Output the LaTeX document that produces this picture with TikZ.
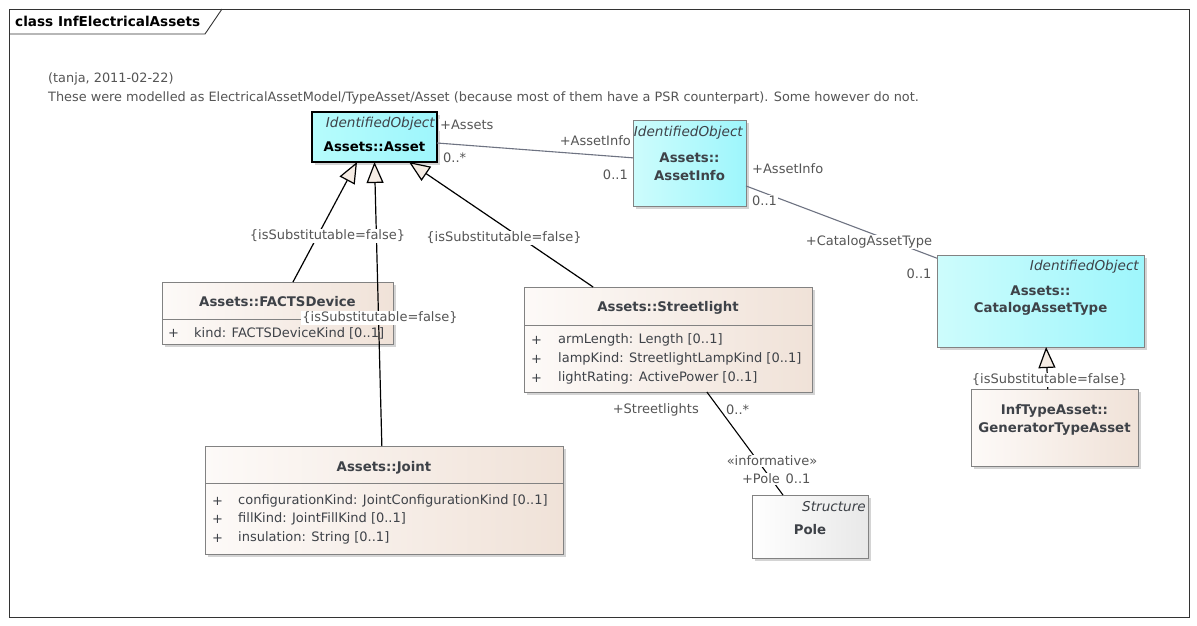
\documentclass[tikz,border=0pt]{standalone}
\usepackage{fontspec}
\setmainfont{DejaVu Sans}
\usetikzlibrary{shadows,arrows.meta,calc}

\definecolor{cyanL}{RGB}{205,252,252}
\definecolor{cyanR}{RGB}{158,246,252}
\definecolor{cyanSelL}{RGB}{182,252,252}
\definecolor{tanL}{RGB}{253,250,248}
\definecolor{tanR}{RGB}{240,226,216}
\definecolor{poleR}{RGB}{232,232,232}
\definecolor{boxline}{RGB}{130,130,130}
\definecolor{boxtext}{RGB}{62,66,72}
\definecolor{labeltext}{RGB}{85,85,85}
\definecolor{assocline}{RGB}{110,115,130}
\definecolor{trifill}{RGB}{245,236,228}

\tikzset{
  txt/.style={font=\fontsize{13}{15}\selectfont, inner sep=0pt},
  notetxt/.style={txt, font=\fontsize{12.85}{15}\selectfont, text=labeltext, anchor=west},
  shadowed/.style={drop shadow={shadow xshift=3pt, shadow yshift=-3pt, fill=black!30, opacity=0.55}},
  classbox/.style={rectangle, draw=boxline, line width=0.9pt, inner sep=0pt, outer sep=0pt, shadowed},
  cyanbox/.style={classbox, left color=cyanL, right color=cyanR},
  tanbox/.style={classbox, left color=tanL, right color=tanR},
  polebox/.style={classbox, left color=white, right color=poleR},
  clsname/.style={txt, font=\fontsize{13.3}{15}\bfseries, text=boxtext},
  stereo/.style={txt, font=\fontsize{13.6}{15}\itshape, text=boxtext},
  attr/.style={txt, text=boxtext, anchor=west},
  rolelabel/.style={txt, text=labeltext, fill=white, inner sep=1pt},
  gen/.style={draw=black, line width=1.2pt, -{Triangle[length=21pt, width=17pt, fill=trifill]}},
  assoc/.style={draw=assocline, line width=1.1pt},
  sepline/.style={draw=boxline, line width=0.8pt},
}

\begin{document}
\begin{tikzpicture}[x=1pt, y=-1pt]
\fill[white] (0,0) rectangle (1197,625);
\useasboundingbox (0,0) rectangle (1197,625);

% diagram frame with its name tab
\draw[line width=0.9pt, black!80] (9,9) rectangle (1189,617);
\draw[line width=0.9pt, black!80] (9,34) -- (205,34) -- (222,9);
\node[txt, font=\fontsize{13.6}{15}\bfseries, anchor=west] (title) at (15,21) {class InfElectricalAssets};

% note
\node[notetxt] (note1) at (48,79) {(tanja, 2011-02-22)};
\node[notetxt] (note2) at (48,98) {These were modelled as ElectricalAssetModel/TypeAsset/Asset (because most of them have a PSR counterpart). Some however do not.};

% classes
\node[classbox, left color=cyanSelL, right color=cyanR, draw=black, line width=1.2pt, minimum width=125, minimum height=50] (asset) at (374.5,137) {};
\node[stereo, anchor=east] (assetSt) at (435,124) {IdentifiedObject};
\node[clsname, text=black] (assetNm) at (374.5,147) {Assets::Asset};

\node[cyanbox, minimum width=113, minimum height=86] (info) at (689.5,163) {};
\node[stereo, anchor=east] (infoSt) at (743,133) {IdentifiedObject};
\node[clsname] (infoNm1) at (689.5,158) {Assets::};
\node[clsname] (infoNm2) at (689.5,176) {AssetInfo};

\node[cyanbox, minimum width=207, minimum height=92] (catalog) at (1040.5,301) {};
\node[stereo, anchor=east] (catalogSt) at (1139,267) {IdentifiedObject};
\node[clsname] (catalogNm1) at (1040.5,291) {Assets::};
\node[clsname] (catalogNm2) at (1040.5,309) {CatalogAssetType};

\node[tanbox, minimum width=167, minimum height=77] (gentype) at (1054.5,427.5) {};
\node[clsname] (gentypeNm1) at (1054.5,411) {InfTypeAsset::};
\node[clsname] (gentypeNm2) at (1054.5,429) {GeneratorTypeAsset};

\node[tanbox, minimum width=231, minimum height=62] (facts) at (277.5,313) {};
\node[clsname] (factsNm) at (277.5,302) {Assets::FACTSDevice};
\draw[sepline] (facts.west |- 0,319) -- (facts.east |- 0,319);
\node[attr] (factsP1) at (168,333) {+};
\node[attr] (factsA1) at (194,333) {kind: FACTSDeviceKind [0..1]};

\node[tanbox, minimum width=288, minimum height=105] (street) at (668,339.5) {};
\node[clsname] (streetNm) at (668,308) {Assets::Streetlight};
\draw[sepline] (street.west |- 0,325) -- (street.east |- 0,325);
\node[attr] (streetP1) at (531,340) {+};
\node[attr] (streetA1) at (558,340) {armLength: Length [0..1]};
\node[attr] (streetP2) at (531,359) {+};
\node[attr] (streetA2) at (558,359) {lampKind: StreetlightLampKind [0..1]};
\node[attr] (streetP3) at (531,378) {+};
\node[attr] (streetA3) at (558,378) {lightRating: ActivePower [0..1]};

\node[tanbox, minimum width=358, minimum height=108] (joint) at (384,500) {};
\node[clsname] (jointNm) at (384,468) {Assets::Joint};
\draw[sepline] (joint.west |- 0,483) -- (joint.east |- 0,483);
\node[attr] (jointP1) at (212,501) {+};
\node[attr] (jointA1) at (238,501) {configurationKind: JointConfigurationKind [0..1]};
\node[attr] (jointP2) at (212,519) {+};
\node[attr] (jointA2) at (238,519) {fillKind: JointFillKind [0..1]};
\node[attr] (jointP3) at (212,538) {+};
\node[attr] (jointA3) at (238,538) {insulation: String [0..1]};

\node[polebox, minimum width=116, minimum height=63] (pole) at (810,526.5) {};
\node[stereo, anchor=east] (poleSt) at (866,507) {Structure};
\node[clsname] (poleNm) at (810,530) {Pole};

% associations
\draw[assoc] ($(asset.north east)!0.62!(asset.south east)$) -- ($(info.north west)!0.44!(info.south west)$);
\node[rolelabel, anchor=west] (lAssets) at (439,125) {+Assets};
\node[rolelabel, anchor=west] (lAssetsM) at (442,158) {0..*};
\node[rolelabel, anchor=east] (lInfo) at (632,141) {+AssetInfo};
\node[rolelabel, anchor=east] (lInfoM) at (629,175) {0..1};

\draw[assoc] ($(info.north east)!0.767!(info.south east)$) -- ($(catalog.north west)!0.035!(catalog.south west)$);
\node[rolelabel, anchor=west] (lInfo2) at (751,169) {+AssetInfo};
\node[rolelabel, anchor=west] (lInfo2M) at (751,201) {0..1};
\node[rolelabel] (lCat) at (869,242) {+CatalogAssetType};
\node[rolelabel] (lCatM) at (919,274) {0..1};

\draw[draw=black, line width=1.1pt] ($(street.south west)!0.635!(street.south east)$) -- ($(pole.north west)!0.267!(pole.north east)$);
\node[rolelabel, anchor=east] (lStreet) at (700,410) {+Streetlights};
\node[rolelabel, anchor=west] (lStreetM) at (725,410) {0..*};
\node[rolelabel] (lInformative) at (772,461) {«informative»};
\node[rolelabel] (lPole) at (761,479) {+Pole};
\node[rolelabel] (lPoleM) at (798,479) {0..1};

% generalizations
\draw[gen] ($(facts.north west)!0.567!(facts.north east)$) -- ($(asset.south west)!0.36!(asset.south east)$);
\draw[gen] ($(joint.north west)!0.494!(joint.north east)$) -- (asset.south);
\draw[gen] ($(street.north west)!0.24!(street.north east)$) -- ($(asset.south west)!0.776!(asset.south east)$);
\draw[gen] ($(gentype.north west)!0.46!(gentype.north east)$) -- ($(catalog.south west)!0.527!(catalog.south east)$);

\node[rolelabel] (sub1) at (327.5,236) {\{isSubstitutable=false\}};
\node[rolelabel] (sub2) at (380,318) {\{isSubstitutable=false\}};
\node[rolelabel] (sub3) at (504,238) {\{isSubstitutable=false\}};
\node[rolelabel] (sub4) at (1049.5,380) {\{isSubstitutable=false\}};
\end{tikzpicture}
\end{document}
